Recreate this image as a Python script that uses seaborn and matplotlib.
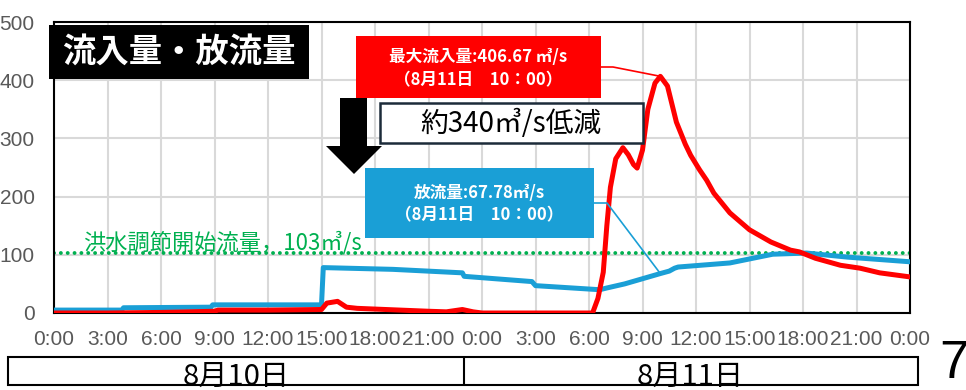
import numpy as np
import pandas as pd
import seaborn as sns
import matplotlib.pyplot as plt
from matplotlib.patches import Rectangle, Polygon
from matplotlib.lines import Line2D

# hours counted from 8/10 0:00
in_hours = [0, 3, 6, 9, 9.2, 12, 15, 15.3, 15.9, 16.4, 17, 19.4, 21, 22, 22.9, 23.5, 24,
            30.2, 30.5, 30.8, 31.0, 31.2, 31.5, 31.9, 32.2, 32.5, 32.7, 33.0, 33.3, 33.7,
            34.0, 34.4, 34.9, 35.4, 35.7, 36.2, 36.6, 37.0, 37.9, 39.0, 40.2, 41.3, 41.8,
            42.7, 44.1, 45.2, 46.3, 48]
in_flow = [0, 0, 1, 3, 5, 5, 6, 17, 20, 10, 8, 5, 3, 2, 6, 2, 0,
           0, 25, 70, 150, 216, 265, 284, 272, 255, 249, 280, 350, 395,
           406.67, 390, 328, 290, 271, 246, 228, 206, 172, 143, 122, 108, 105,
           94, 82, 77, 69, 62]

out_hours = [0, 3.8, 3.9, 8.8, 8.9, 15.0, 15.1, 19, 22.9, 23.0, 26.8, 27.0, 30.6, 31.0,
             32, 34.0, 34.5, 34.8, 35.0, 37.9, 40.3, 42.2, 44.5, 48]
out_flow = [5, 5, 9, 10, 14, 14, 78, 75, 69, 63, 54, 47, 40, 43,
            50, 67.78, 72, 77, 79, 86, 101, 103, 96, 88]

start_flow = 103
peak_in = (34.0, 406.67)
peak_out = (34.0, 67.78)

tick_labels = ['0:00', '3:00', '6:00', '9:00', '12:00', '15:00', '18:00', '21:00'] * 2 + ['0:00']
day_labels = ['8月10日', '8月11日']

W, H = 966, 390
RED = '#ff0000'
BLUE = '#1a9fd6'
GREEN = '#00b050'

sns.set_style('white')
plt.rcParams['font.family'] = ['Noto Sans CJK JP', 'DejaVu Sans']


def fx(x):
    return x / W


def fy(y):
    return 1 - y / H


fig = plt.figure(figsize=(W / 100, H / 100), dpi=100)
ax = fig.add_axes([fx(54), fy(313), 856 / W, 291 / H])

df_in = pd.DataFrame({'hour': in_hours, 'flow': in_flow})
df_out = pd.DataFrame({'hour': out_hours, 'flow': out_flow})

ax.axhline(start_flow, color=GREEN, lw=2.8, linestyle=(0, (0.01, 1.75)),
           dash_capstyle='round', zorder=2)
sns.lineplot(data=df_out, x='hour', y='flow', ax=ax, color=BLUE, lw=3.6,
             sort=False, estimator=None, legend=False, zorder=3)
sns.lineplot(data=df_in, x='hour', y='flow', ax=ax, color=RED, lw=3.6,
             sort=False, estimator=None, legend=False, zorder=4)

ax.set_xlim(0, 48)
ax.set_ylim(0, 500)
ax.set_xticks(np.arange(0, 49, 3))
ax.set_xticklabels(tick_labels, fontfamily=['Liberation Sans', 'DejaVu Sans'],
                   fontsize=15, color='#595959')
ax.set_yticks(np.arange(0, 501, 100))
ax.set_yticklabels([str(v) for v in range(0, 501, 100)],
                   fontfamily=['Liberation Sans', 'DejaVu Sans'],
                   fontsize=15, color='#595959')
ax.tick_params(axis='x', length=0, pad=12)
ax.tick_params(axis='y', length=0, pad=14)
ax.set_xlabel('')
ax.set_ylabel('')
ax.grid(True, color='#d9d9d9', lw=1.5)
ax.set_axisbelow(True)
for s in ax.spines.values():
    s.set_color('black')
    s.set_linewidth(1.5)

# title box
fig.add_artist(Rectangle((fx(49), fy(79)), 260 / W, 54 / H, transform=fig.transFigure,
                         facecolor='black', edgecolor='none', zorder=5))
fig.text(fx(179), fy(52), '流入量・放流量', color='white', fontsize=24, fontweight='bold',
         ha='center', va='center', zorder=6)

# peak inflow box
fig.add_artist(Rectangle((fx(356), fy(98)), 245 / W, 62 / H, transform=fig.transFigure,
                         facecolor=RED, edgecolor='none', zorder=5))
fig.text(fx(478), fy(57), '最大流入量:406.67 ㎥/s', color='white', fontsize=12,
         fontweight='bold', ha='center', va='center', zorder=6)
fig.text(fx(478), fy(80), '（8月11日　10：00）', color='white', fontsize=12,
         fontweight='bold', ha='center', va='center', zorder=6)

# reduction box
fig.add_artist(Rectangle((fx(380), fy(143)), 263 / W, 40 / H, transform=fig.transFigure,
                         facecolor='white', edgecolor='#1c2b39', lw=1.8, zorder=5))
fig.text(fx(511), fy(124), '約340㎥/s低減', color='black', fontsize=20,
         ha='center', va='center', zorder=6)

# down arrow
arrow_px = [(340, 98), (367, 98), (367, 146), (382, 146), (354, 174), (326, 146), (340, 146)]
fig.add_artist(Polygon([(fx(x), fy(y)) for x, y in arrow_px], closed=True,
                       transform=fig.transFigure, facecolor='black', edgecolor='none', zorder=5))

# outflow box
fig.add_artist(Rectangle((fx(365), fy(238)), 229 / W, 70 / H, transform=fig.transFigure,
                         facecolor=BLUE, edgecolor='none', zorder=5))
fig.text(fx(479), fy(193), '放流量:67.78㎥/s', color='white', fontsize=12,
         fontweight='bold', ha='center', va='center', zorder=6)
fig.text(fx(479), fy(215), '（8月11日　10：00）', color='white', fontsize=12,
         fontweight='bold', ha='center', va='center', zorder=6)

# connector lines
to_fig = fig.transFigure.inverted()
pin = to_fig.transform(ax.transData.transform(peak_in))
pout = to_fig.transform(ax.transData.transform(peak_out))
fig.add_artist(Line2D([fx(601), fx(613), pin[0]], [fy(67), fy(67), pin[1]],
                      transform=fig.transFigure, color=RED, lw=1.2, zorder=5))
fig.add_artist(Line2D([fx(594), fx(607), pout[0]], [fy(203), fy(203), pout[1]],
                      transform=fig.transFigure, color=BLUE, lw=1.2, zorder=5))

# start flow label
fig.text(fx(83), fy(243), '洪水調節開始流量，103㎥/s', color=GREEN, fontsize=16,
         ha='left', va='center', zorder=6)

# date row
fig.add_artist(Rectangle((fx(8), fy(385)), 910 / W, 28 / H, transform=fig.transFigure,
                         facecolor='none', edgecolor='black', lw=1.5, zorder=5))
fig.add_artist(Line2D([fx(464), fx(464)], [fy(357), fy(385)], transform=fig.transFigure,
                      color='black', lw=1.5, zorder=5))
fig.text(fx(236), fy(385), day_labels[0], color='black', fontsize=21,
         ha='center', va='baseline', zorder=6)
fig.text(fx(690), fy(385), day_labels[1], color='black', fontsize=21,
         ha='center', va='baseline', zorder=6)

# page number
fig.text(fx(939), fy(378), '7', color='black', fontsize=38,
         fontfamily=['Liberation Sans', 'DejaVu Sans'], ha='left', va='baseline')

fig.savefig('out.png', dpi=100)
